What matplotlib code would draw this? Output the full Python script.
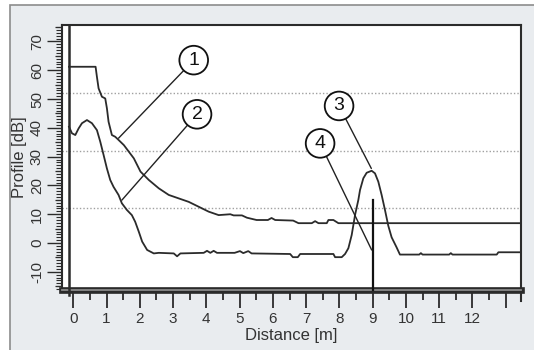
import matplotlib
matplotlib.use('Agg')
import matplotlib.pyplot as plt
import matplotlib.patheffects as pe
from matplotlib.patches import Rectangle
import numpy as np

plt.rcParams['font.family'] = ['Liberation Sans', 'DejaVu Sans']
plt.rcParams['axes.unicode_minus'] = False

# curve 1 - upper profile
dist_1 = [-0.13, 0.67, 0.71, 0.76, 0.86, 0.96, 1.01, 1.06, 1.16, 1.26, 1.36, 1.52, 1.67, 1.82,
          2.02, 2.27, 2.57, 2.87, 3.17, 3.47, 3.77, 4.07, 4.37, 4.72, 4.82, 5.07, 5.22, 5.51,
          5.85, 5.96, 6.07, 6.61, 6.77, 7.17, 7.27, 7.37, 7.62, 7.67, 7.82, 7.97, 13.46]
prof_1 = [61.2, 61.2, 57.7, 53.7, 50.8, 50.2, 46.8, 42.1, 37.5, 36.9, 35.8, 34.0, 31.7, 29.4,
          24.8, 21.9, 19.0, 16.7, 15.5, 14.3, 12.6, 10.9, 9.7, 10.0, 9.6, 9.6, 8.8, 8.0,
          8.0, 8.7, 8.0, 7.8, 6.9, 6.9, 7.6, 6.9, 6.9, 8.0, 8.0, 6.9, 6.9]

# curve 2 - lower profile with echo peak
dist_2 = [-0.13, -0.04, 0.06, 0.16, 0.26, 0.41, 0.56, 0.71, 0.81, 0.91, 1.01, 1.11, 1.21, 1.36,
          1.46, 1.61, 1.76, 1.86, 1.97, 2.07, 2.22, 2.42, 2.57, 3.02, 3.12, 3.22, 3.92, 4.02,
          4.12, 4.22, 4.32, 4.85, 5.01, 5.11, 5.26, 5.36, 6.52, 6.6, 6.75, 6.82, 7.82, 7.87,
          8.07, 8.17, 8.27, 8.37, 8.47, 8.57, 8.62, 8.72, 8.82, 8.97, 9.07, 9.17, 9.27, 9.37,
          9.47, 9.57, 9.72, 9.82, 10.4, 10.45, 10.5, 11.3, 11.35, 11.4, 12.73, 12.78, 13.46]
prof_2 = [40.4, 38.1, 37.5, 39.8, 41.6, 42.7, 41.6, 39.2, 35.2, 30.6, 25.9, 21.9, 19.5, 16.7,
          13.8, 11.5, 9.7, 7.4, 3.9, 0.5, -2.4, -3.6, -3.4, -3.6, -4.6, -3.6, -3.4, -2.7,
          -3.4, -2.7, -3.4, -3.4, -2.8, -3.5, -2.8, -3.6, -3.8, -4.9, -4.9, -3.8, -3.8, -4.9,
          -4.9, -3.8, -1.8, 2.8, 9.7, 15.0, 18.4, 22.5, 24.4, 25.1, 24.2, 21.3, 16.7, 11.5,
          6.0, 2.0, -1.5, -4.0, -4.0, -3.5, -4.0, -4.0, -3.5, -4.0, -4.0, -3.2, -3.2]

# marker 4 - vertical line
marker_x = 9.0
marker_top = 15.0

grid_levels = [52, 32, 12]

callout_labels = ['1', '2', '3', '4']
callout_pos = [(3.62, 63.5), (3.72, 44.7), (7.99, 47.6), (7.42, 34.6)]
callout_target = [(1.36, 36.4), (1.46, 14.9), (8.96, 25.9), (8.97, -2.4)]

x_ticks = np.arange(0, 14)
x_ticklabels = [str(v) for v in range(13)] + ['']
y_ticks = np.arange(-10, 80, 10)

x_origin = -0.13
dark = '#2b2b2b'

fig = plt.figure(figsize=(5.34, 3.5), dpi=100)
fig.patch.set_facecolor('white')
fig.add_artist(Rectangle((10 / 534, -0.02), 1.05, 1 - 5 / 350 + 0.02, transform=fig.transFigure,
                         facecolor='#e9ecef', edgecolor='#8c8c8c', lw=1.2, zorder=-5))

ax = fig.add_axes([62 / 534, 1 - 290 / 350, (521 - 62) / 534, (290 - 25) / 350])
ax.set_facecolor('white')
ax.set_xlim(-0.34, 13.46)
ax.set_ylim(-16.3, 75.7)

for lv in grid_levels:
    ax.axhline(lv, color='#a0a0a0', lw=1.0, ls=(0, (1, 1.5)), zorder=1)

ax.plot(dist_1, prof_1, color=dark, lw=1.3, zorder=3)
ax.plot(dist_2, prof_2, color=dark, lw=1.3, zorder=3)
ax.plot([marker_x, marker_x], [-16.3, marker_top], color='#111111', lw=1.6, zorder=4, clip_on=False)

for lab, pos, tgt in zip(callout_labels, callout_pos, callout_target):
    ax.annotate(lab, xy=tgt, xytext=pos, ha='center', va='center', fontsize=14, color='#111111',
                bbox=dict(boxstyle='circle,pad=0.3', fc='white', ec='#111111', lw=1.3),
                arrowprops=dict(arrowstyle='-', color='#222222', lw=1.0, shrinkA=0, shrinkB=0),
                zorder=5)

# inner y axis line
ax.plot([x_origin, x_origin], [-16.3 - 1.8, 75.7], color=dark, lw=1.8, clip_on=False, zorder=6)

# frame
for s in ['top', 'right', 'left']:
    ax.spines[s].set_color(dark)
    ax.spines[s].set_linewidth(1.5)
ax.spines['bottom'].set_color('#8a8a8a')
ax.spines['bottom'].set_linewidth(1.3)
ax.spines['bottom'].set_path_effects([pe.Stroke(linewidth=4.8, foreground='#2a2a2a'), pe.Normal()])
ax.plot([1, 1], [0, -0.04], transform=ax.transAxes, color=dark, lw=1.5, clip_on=False)

ax.set_xticks(x_ticks)
ax.set_xticklabels(x_ticklabels)
ax.set_xticks(np.arange(0.5, 13.5, 1), minor=True)
ax.set_yticks(y_ticks)
ax.set_yticks(np.arange(-16, 76, 1), minor=True)
ax.tick_params(axis='x', which='major', length=13, width=1.3, color=dark, pad=3,
               labelsize=11, labelcolor='#333333')
ax.tick_params(axis='x', which='minor', length=7, width=1.3, color=dark)
ax.tick_params(axis='y', which='major', length=11, width=1.0, color=dark, pad=2,
               labelsize=11, labelcolor='#333333', labelrotation=90)
ax.tick_params(axis='y', which='minor', length=4, width=0.8, color=dark)
for t in ax.get_yticklabels():
    t.set_va('center')

# medium ticks at the fives
ax.hlines(np.arange(-15, 80, 10), -0.015, 0, transform=ax.get_yaxis_transform(),
          color=dark, lw=0.9, clip_on=False)

ax.set_xlabel('Distance [m]', fontsize=12, color='#333333', labelpad=1)
ax.set_ylabel('Profile [dB]', fontsize=12, color='#333333', labelpad=2)

fig.savefig('out.png', dpi=100, facecolor=fig.get_facecolor())
